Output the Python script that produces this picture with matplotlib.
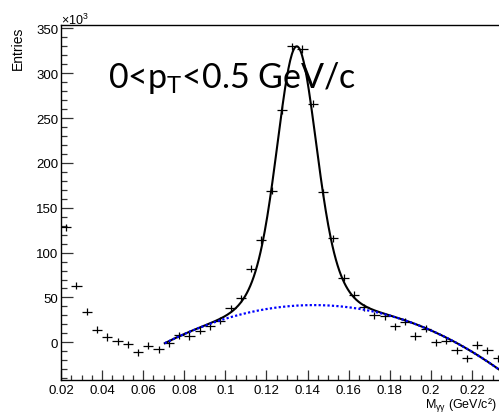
import matplotlib
matplotlib.use('Agg')
import matplotlib.pyplot as plt
from matplotlib.ticker import MultipleLocator, FormatStrFormatter
import numpy as np

plt.rcParams['font.family'] = ['Liberation Sans', 'DejaVu Sans']
plt.rcParams['mathtext.fontset'] = 'custom'
plt.rcParams['mathtext.rm'] = 'Liberation Sans'

# diphoton invariant mass histogram, counts in units of 10^3
mass = [0.0225, 0.0275, 0.0325, 0.0375, 0.0425, 0.0475, 0.0525, 0.0575, 0.0625, 0.0675,
        0.0725, 0.0775, 0.0825, 0.0875, 0.0925, 0.0975, 0.1025, 0.1075, 0.1125, 0.1175,
        0.1225, 0.1275, 0.1325, 0.1375, 0.1425, 0.1475, 0.1525, 0.1575, 0.1625, 0.1675,
        0.1725, 0.1775, 0.1825, 0.1875, 0.1925, 0.1975, 0.2025, 0.2075, 0.2125, 0.2175,
        0.2225, 0.2275, 0.2325]
entries = [128, 63, 34, 14, 6, 1, -2, -11, -4, -8,
           -1, 8, 7, 13, 18, 24, 38, 49, 82, 114,
           169, 259, 330, 327, 266, 167, 116, 72, 53, 39,
           30, 29, 18, 23, 7, 15, 0, 2, -9, -18,
           -3, -9, -18]
bin_width = 0.005
entry_err = 4.0

# fit result: double gaussian peak on a cubic background
fit_range = [0.0705, 0.235]
bkg_x0 = 0.143
bkg_pars = [41.5, 0.0, -8418.0, -4585.0]
sig_mean = 0.1347
sig_amp = [180.0, 109.0]
sig_sigma = [0.0085, 0.013]


def background(x):
    t = x - bkg_x0
    return sum(p * t**i for i, p in enumerate(bkg_pars))


def total(x):
    s = sum(a * np.exp(-0.5 * ((x - sig_mean) / w)**2) for a, w in zip(sig_amp, sig_sigma))
    return background(x) + s


fig = plt.figure(figsize=(4.99, 4.14), dpi=100)
ax = fig.add_axes([61/499, 1-381/414, 441.8/499, 355/414])

ax.errorbar(mass, entries, xerr=bin_width/2, yerr=entry_err, fmt='none',
            ecolor='black', elinewidth=0.9, capsize=0)

xf = np.linspace(fit_range[0], fit_range[1], 400)
ax.plot(xf, total(xf), color='black', lw=1.5)
ax.plot(xf, background(xf), color='blue', lw=1.6, ls=(0, (1, 1)))

ax.set_xlim(0.02, 0.235)
ax.set_ylim(-42, 353.7)

ax.spines['right'].set_visible(False)
for s in ['left', 'bottom', 'top']:
    ax.spines[s].set_linewidth(1.0)

ax.xaxis.set_major_locator(MultipleLocator(0.02))
ax.xaxis.set_minor_locator(MultipleLocator(0.005))
ax.xaxis.set_major_formatter(FormatStrFormatter('%g'))
ax.yaxis.set_major_locator(MultipleLocator(50))
ax.yaxis.set_minor_locator(MultipleLocator(10))
ax.tick_params(axis='both', which='both', direction='in', top=False, right=False,
               labelsize=9.5, width=0.9, color='#333333')
ax.tick_params(axis='x', which='major', length=7, pad=3)
ax.tick_params(axis='x', which='minor', length=3.6)
ax.tick_params(axis='y', which='major', length=8.6, pad=2)
ax.tick_params(axis='y', which='minor', length=4.3)

fig.text(61/499, 1-20/414, '×10$^{\\mathregular{3}}$', fontsize=9, ha='left', va='center')
fig.text(18/499, 1-48/414, 'Entries', fontsize=10, rotation=90, ha='center', va='center')
fig.text(497/499, 1-409/414, 'M$_{\\mathregular{γγ}}$ (GeV/c²)',
         fontsize=9, ha='right', va='baseline')

fig.text(108/499, 1-88/414, '0<p$_{\\mathregular{T}}$<0.5 GeV/c', fontsize=24.5,
         family=['Lato', 'DejaVu Sans'], ha='left', va='baseline',
         math_fontfamily='custom')

fig.savefig('out.png', dpi=100)
